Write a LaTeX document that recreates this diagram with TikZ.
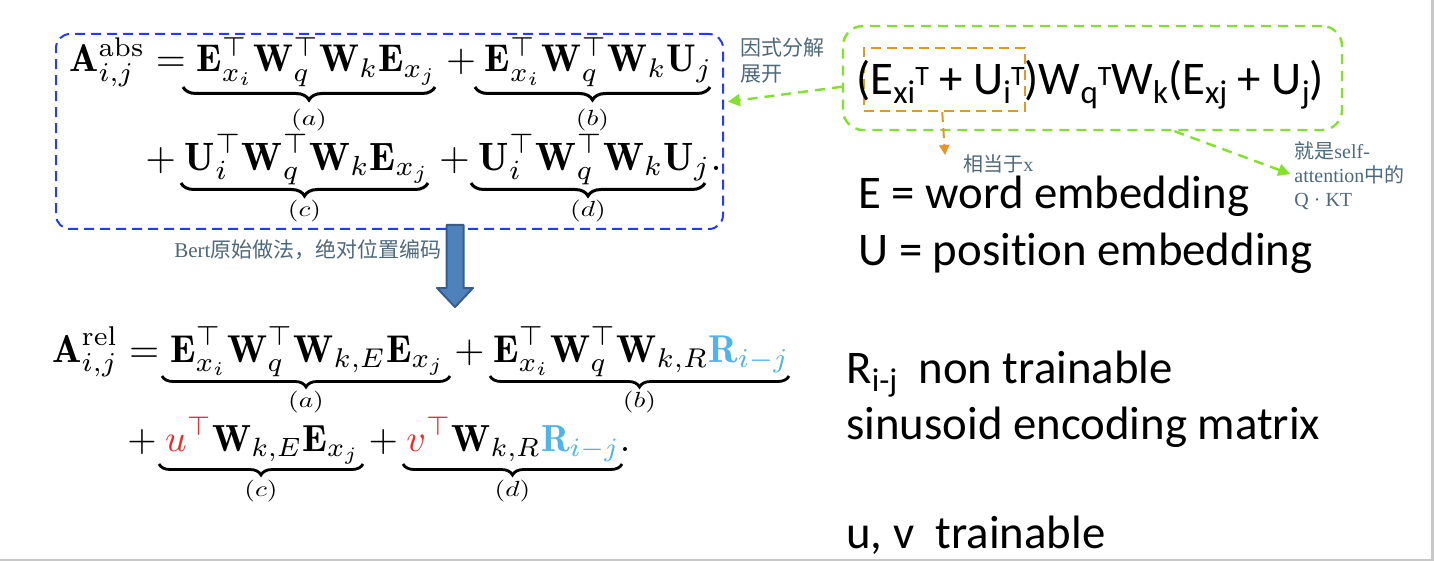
\documentclass[tikz,border=0pt]{standalone}
\usepackage{amsmath,amssymb}
\usepackage{graphicx}
\usepackage{fontspec}
\newfontfamily\calib[Ligatures={NoCommon}]{Carlito}
\newfontfamily\cjk{Noto Sans CJK SC}
\newfontfamily\serf{Liberation Serif}
\usetikzlibrary{arrows.meta,decorations.pathreplacing}
\definecolor{bluedash}{RGB}{35,60,240}
\definecolor{lime}{RGB}{130,225,45}
\definecolor{orng}{RGB}{230,150,40}
\definecolor{annot}{RGB}{78,104,124}
\definecolor{arrfill}{RGB}{79,129,189}
\definecolor{arrdraw}{RGB}{56,93,138}
\definecolor{ured}{RGB}{240,40,40}
\definecolor{rblue}{RGB}{80,180,235}
\definecolor{slidegray}{RGB}{200,200,200}
\newcommand{\psub}[1]{\raisebox{-0.18em}{\fontsize{16.5pt}{16.5pt}\selectfont #1}}
\newcommand{\psup}[1]{\raisebox{0.2em}{\fontsize{14pt}{14pt}\selectfont #1}}
\newcommand{\blabel}[1]{\scalebox{1.25}[1]{$(#1)$}}
\begin{document}
\begin{tikzpicture}[x=0.5pt,y=-0.5pt,
  eqrow/.style={inner sep=0pt, anchor=base west},
  ulabel/.style={inner sep=0pt, anchor=center, font=\fontsize{11pt}{13pt}\selectfont},
  ubraceA/.style={decorate, decoration={brace, mirror, amplitude=6.5pt, aspect=0.5}, line width=1.5pt},
  ubraceB/.style={decorate, decoration={brace, mirror, amplitude=5.5pt, aspect=0.5}, line width=1.4pt},
  bigtext/.style={inner sep=0pt, anchor=base west, font=\calib\fontsize{23.4pt}{28pt}\selectfont},
  annottext/.style={inner sep=0pt, anchor=north west, text=annot, align=left},
  bluebox/.style={draw=bluedash, line width=1pt, dash pattern=on 5pt off 3pt, rounded corners=7pt, inner sep=0pt},
  greenbox/.style={draw=lime, line width=1.2pt, dash pattern=on 5pt off 3.5pt, rounded corners=10pt, inner sep=0pt},
  orangebox/.style={draw=orng, line width=1pt, dash pattern=on 5pt off 3pt, inner sep=0pt},
  greenarrow/.style={draw=lime, line width=1.2pt, dash pattern=on 5pt off 3.5pt, -{Triangle[length=6pt,width=6pt,fill=lime]}},
  orangearrow/.style={draw=orng, line width=1pt, dash pattern=on 5pt off 3pt, -{Triangle[length=5pt,width=5pt,fill=orng]}},
  bigarrow/.style={fill=arrfill, draw=arrdraw, line width=1pt, line join=round}
]
\useasboundingbox (0,0) rectangle (1434,561);
\fill[white] (0,0) rectangle (1434,561);
\fill[slidegray] (1431,0) rectangle (1434,561);
\fill[slidegray] (0,559) rectangle (1434,561);

% top equation box
\node[bluebox, minimum width=333.5pt, minimum height=97.5pt] (bbox) at (389.5,131.5) {};
\node[eqrow] (abs1) at (69,72) {\resizebox{321.5pt}{!}{$\displaystyle \mathbf{A}^{\mathrm{abs}}_{i,j} = \mathbf{E}_{x_i}^{\top}\mathbf{W}_q^{\top}\mathbf{W}_k\mathbf{E}_{x_j} + \mathbf{E}_{x_i}^{\top}\mathbf{W}_q^{\top}\mathbf{W}_k\mathbf{U}_{j}$}};
\node[eqrow] (abs2) at (145,170) {\resizebox{288pt}{!}{$\displaystyle +\mskip\medmuskip \mathbf{U}_{i}^{\top}\mathbf{W}_q^{\top}\mathbf{W}_k\mathbf{E}_{x_j} + \mathbf{U}_{i}^{\top}\mathbf{W}_q^{\top}\mathbf{W}_k\mathbf{U}_{j}.$}};
\draw[ubraceA] (183,87) -- node[ulabel, yshift=-16.5pt] (absa) {\blabel{a}} (435,87);
\draw[ubraceA] (475,87) -- node[ulabel, yshift=-16.5pt] (absb) {\blabel{b}} (710,87);
\draw[ubraceA] (181,183) -- node[ulabel, yshift=-14pt] (absc) {\blabel{c}} (428,183);
\draw[ubraceA] (471,183) -- node[ulabel, yshift=-14pt] (absd) {\blabel{d}} (705,183);

% bottom equation
\node[eqrow] (rel1) at (52,362) {\resizebox{368.5pt}{!}{$\displaystyle \mathbf{A}^{\mathrm{rel}}_{i,j} = \mathbf{E}_{x_i}^{\top}\mathbf{W}_q^{\top}\mathbf{W}_{k,E}\mathbf{E}_{x_j} + \mathbf{E}_{x_i}^{\top}\mathbf{W}_q^{\top}\mathbf{W}_{k,R}\textcolor{rblue}{\mathbf{R}_{i-j}}$}};
\node[eqrow] (rel2) at (127,451) {\resizebox{251.5pt}{!}{$\displaystyle +\mskip\medmuskip \textcolor{ured}{u^{\top}}\mathbf{W}_{k,E}\mathbf{E}_{x_j} + \textcolor{ured}{v^{\top}}\mathbf{W}_{k,R}\textcolor{rblue}{\mathbf{R}_{i-j}}.$}};
\draw[ubraceB] (162,376) -- node[ulabel, yshift=-13pt] (rela) {\blabel{a}} (450,376);
\draw[ubraceB] (490,376) -- node[ulabel, yshift=-13pt] (relb) {\blabel{b}} (789,376);
\draw[ubraceB] (159,464) -- node[ulabel, yshift=-13.5pt] (relc) {\blabel{c}} (363,464);
\draw[ubraceB] (403,464) -- node[ulabel, yshift=-13.5pt] (reld) {\blabel{d}} (622,464);

% big down arrow
\draw[bigarrow] (446.5,225) -- (463.5,225) -- (463.5,288) -- (473,288) -- (455,307) -- (437,288) -- (446.5,288) -- cycle;

% annotations
\node[annottext, font=\fontsize{10.5pt}{13pt}\selectfont] (bert) at (174,239) {{\serf Bert}{\cjk 原始做法，绝对位置编码}};
\node[annottext, font=\cjk\fontsize{10.5pt}{13pt}\selectfont] (expand) at (740,37) {因式分解\\展开};

% green formula box
\node[greenbox, minimum width=249.5pt, minimum height=52pt] (gbox) at (1092.5,78) {};
\node[orangebox, minimum width=80.5pt, minimum height=31.5pt] (obox) at (944.5,79.5) {};
\node[bigtext] (formula) at (856,95) {(E\psub{xi}\psup{T} + U\psub{i}\psup{T})W\psub{q}\psup{T}W\psub{k}(E\psub{xj} + U\psub{j})};

\node[annottext, font=\fontsize{10pt}{12pt}\selectfont] (likex) at (963,154) {{\cjk 相当于}{\serf x}};
\node[annottext, font=\fontsize{10pt}{12pt}\selectfont] (qk) at (1294,141) {{\cjk 就是}{\serf self-}\\{\serf attention}{\cjk 中的}\\{\serf Q · KT}};

\coordinate (otip) at (945,155);
\draw[greenarrow, shorten >=2pt] (gbox.182) -- (bbox.5);
\draw[greenarrow, shorten >=2pt] (gbox.-33) -- (qk.west);
\draw[orangearrow] (obox.266) -- (otip);

% right-hand texts
\node[bigtext] (tE) at (858,209) {E = word embedding};
\node[bigtext] (tU) at (858,265) {U = position embedding};
\node[bigtext] (tR) at (846,383) {R\psub{i-j}\ \ non trainable};
\node[bigtext] (tS) at (846,439) {sinusoid encoding matrix};
\node[bigtext] (tUV) at (846,548) {u, v\ \ trainable};
\end{tikzpicture}
\end{document}
